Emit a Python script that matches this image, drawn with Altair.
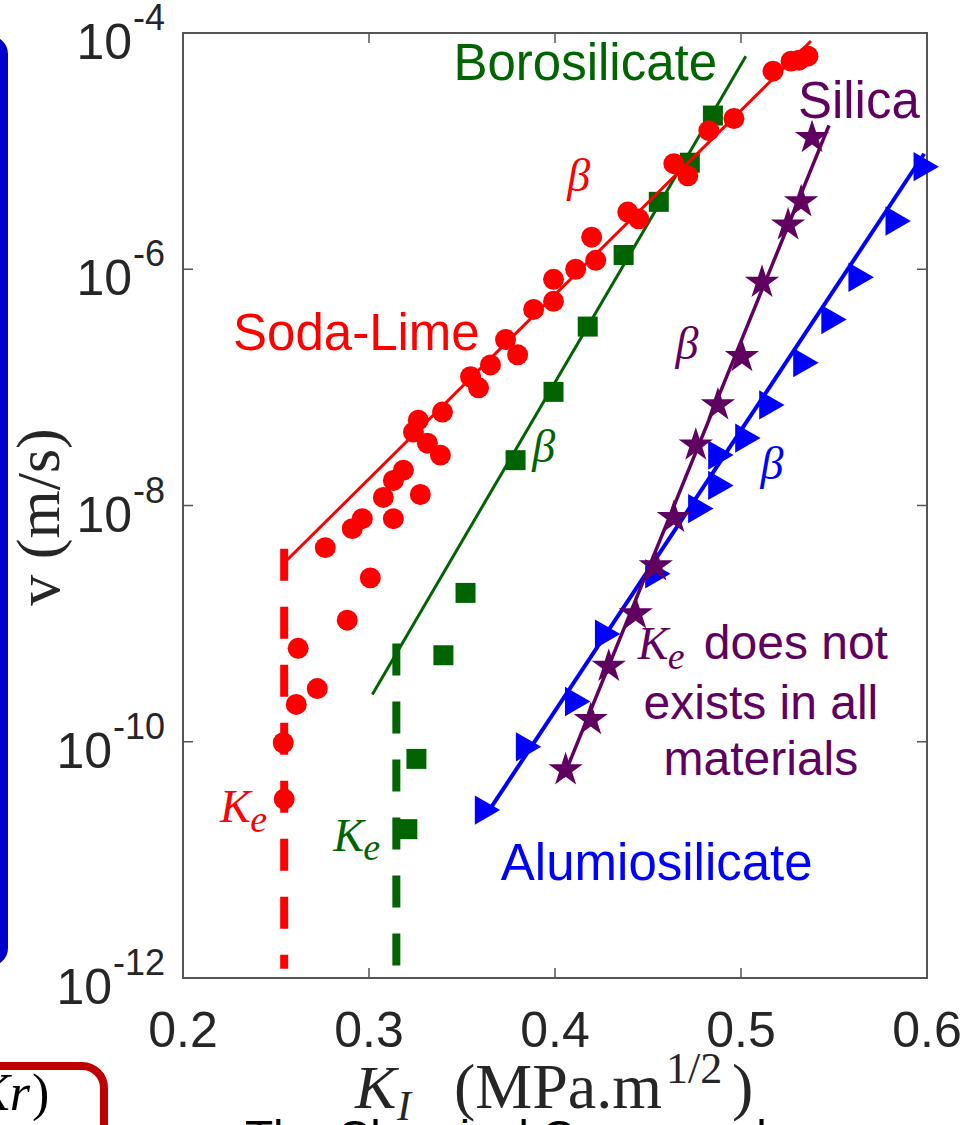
import altair as alt
import pandas as pd

# ---------------------------------------------------------------
# Sub-critical crack growth: velocity v (m/s) against K_I (MPa.m^1/2)
# ---------------------------------------------------------------
soda_k = [0.2544, 0.2539, 0.2609, 0.2722, 0.2619, 0.2883, 0.3007, 0.2765, 0.2910, 0.2964,
          0.3131, 0.3077, 0.3185, 0.3131, 0.3276, 0.3384, 0.3314, 0.3239, 0.3265, 0.3395,
          0.3589, 0.3546, 0.3653, 0.3799, 0.3734, 0.3885, 0.3992, 0.3992, 0.4111, 0.4219,
          0.4197, 0.4391, 0.4450, 0.4639, 0.4714, 0.4827, 0.4962, 0.5172, 0.5269, 0.5312, 0.5360]
soda_v = [3.27e-11, 9.8e-11, 2.07e-10, 2.82e-10, 6.18e-10, 1.07e-9, 2.44e-9, 4.40e-9, 6.37e-9, 7.74e-9,
          7.74e-9, 1.17e-8, 1.99e-8, 1.63e-8, 1.24e-8, 2.67e-8, 3.37e-8, 4.18e-8, 5.28e-8, 6.18e-8,
          9.91e-8, 1.23e-7, 1.55e-7, 1.89e-7, 2.54e-7, 4.57e-7, 5.35e-7, 8.22e-7, 1.00e-6, 1.19e-6,
          1.87e-6, 3.05e-6, 2.67e-6, 7.83e-6, 6.18e-6, 1.49e-5, 1.89e-5, 4.75e-5, 5.78e-5, 5.89e-5, 6.37e-5]

boro_k = [0.3206, 0.3255, 0.3400, 0.3519, 0.3788, 0.3992, 0.4176, 0.4369, 0.4558, 0.4725, 0.4849]
boro_v = [1.82e-11, 7.16e-11, 5.40e-10, 1.82e-9, 2.42e-8, 9.16e-8, 3.27e-7, 1.32e-6, 3.72e-6, 7.98e-6, 2.00e-5]

silica_k = [0.4057, 0.4192, 0.4289, 0.4434, 0.4542, 0.4639, 0.4757, 0.4876, 0.5005, 0.5113,
            0.5253, 0.5323, 0.5382]
silica_v = [5.78e-11, 1.54e-10, 4.35e-10, 1.21e-9, 3.08e-9, 7.91e-9, 3.24e-8, 7.10e-8, 1.82e-7, 7.74e-7,
            2.37e-6, 3.72e-6, 1.30e-5]

alumino_k = [0.3637, 0.3858, 0.4122, 0.4283, 0.4553, 0.4784, 0.4892, 0.4892, 0.5037, 0.5166,
             0.5349, 0.5500, 0.5646, 0.5845, 0.5996]
alumino_v = [2.64e-11, 9.06e-11, 2.19e-10, 8.15e-10, 2.64e-9, 9.42e-9, 1.48e-8, 2.67e-8, 3.72e-8, 7.10e-8,
             1.62e-7, 3.75e-7, 8.55e-7, 2.56e-6, 7.38e-6]

# Straight fits of the stress-corrosion (beta) region
soda_fit_k, soda_fit_v = [0.2539, 0.5376], [3.21e-9, 8.55e-5]
boro_fit_k, boro_fit_v = [0.3018, 0.5026], [2.51e-10, 6.37e-5]
silica_fit_k, silica_fit_v = [0.4045, 0.5473], [5.0e-11, 1.65e-5]
alumino_fit_k, alumino_fit_v = [0.3637, 0.5985], [2.5e-11, 9.5e-6]

# Fatigue limits K_e (vertical dashed lines)
ke_soda, ke_soda_v = 0.2544, [4.3e-9, 1.2e-12]
ke_boro, ke_boro_v = 0.3147, [6.8e-10, 1.25e-12]

# Axis ticks
x_ticks = [0.2, 0.3, 0.4, 0.5, 0.6]
x_tick_labels = ["0.2", "0.3", "0.4", "0.5", "0.6"]
x_inner_ticks = [0.3, 0.4, 0.5]
y_ticks = [1e-4, 1e-6, 1e-8, 1e-10, 1e-12]
y_tick_exp = ["-4", "-6", "-8", "-10", "-12"]
y_inner_ticks = [1e-6, 1e-8, 1e-10]

RED, GREEN, PURPLE, BLUE = "#ff0000", "#006400", "#600060", "#0000ff"
INK = "#262626"
SANS = "Liberation Sans"
SERIF = "Liberation Serif"

# five-pointed star in the unit box used by Vega symbol paths
STAR = ("M0,-1L0.2245,-0.309L0.9511,-0.309L0.3633,0.118L0.5878,0.809"
        "L0,0.382L-0.5878,0.809L-0.3633,0.118L-0.9511,-0.309L-0.2245,-0.309Z")

W, H = 744, 945

XS = alt.Scale(domain=[0.2, 0.6], nice=False, zero=False)
YS = alt.Scale(type="log", domain=[1e-12, 1e-4], nice=False)


def xk(field="k"):
    return alt.X(f"{field}:Q", scale=XS, axis=None)


def yv(field="v"):
    return alt.Y(f"{field}:Q", scale=YS, axis=None)


def frame(d):
    return alt.Chart(pd.DataFrame(d))


def points(k, v, shape, size, color):
    return frame({"k": k, "v": v}).mark_point(
        shape=shape, size=size, filled=True, color=color, opacity=1
    ).encode(x=xk(), y=yv())


def fit(k, v, color, width):
    return frame({"k": k, "v": v}).mark_line(
        color=color, strokeWidth=width
    ).encode(x=xk(), y=yv())


def ke_line(k, v, color):
    return frame({"k": [k], "v": [v[0]], "v2": [v[1]]}).mark_rule(
        color=color, strokeWidth=8, strokeDash=[32, 26], strokeCap="butt"
    ).encode(x=xk(), y=yv(), y2="v2:Q")


def note(text, k, v, color, size, font=SANS, style="normal", align="left", baseline="alphabetic"):
    return frame({"k": [k], "v": [v], "t": [text]}).mark_text(
        align=align, baseline=baseline, font=font, fontSize=size, fontStyle=style, color=color
    ).encode(x=xk(), y=yv(), text="t:N")


def pixel_text(text, px, py, size, font, style="normal", align="left",
               baseline="alphabetic", color=INK, angle=None):
    kw = dict(align=align, baseline=baseline, font=font, fontSize=size, fontStyle=style, color=color)
    if angle is not None:
        kw["angle"] = angle
    return frame({"t": [text]}).mark_text(**kw).encode(
        x=alt.value(px), y=alt.value(py), text="t:N"
    )


layers = []

# Fits, measured points and fatigue limits
layers += [
    fit(boro_fit_k, boro_fit_v, GREEN, 3),
    points(boro_k, boro_v, "square", 400, GREEN),
    fit(soda_fit_k, soda_fit_v, RED, 3),
    points(soda_k, soda_v, "circle", 440, RED),
    fit(alumino_fit_k, alumino_fit_v, BLUE, 4),
    points(alumino_k, alumino_v, "triangle-right", 860, BLUE),
    fit(silica_fit_k, silica_fit_v, PURPLE, 3.5),
    points(silica_k, silica_v, STAR, 1300, PURPLE),
    ke_line(ke_soda, ke_soda_v, RED),
    ke_line(ke_boro, ke_boro_v, GREEN),
]

# Material names and annotations
layers += [
    note("Borosilicate", 0.3454, 3.98e-5, GREEN, 51),
    note("Silica", 0.5306, 1.89e-5, PURPLE, 51),
    note("Soda-Lime", 0.2269, 2.08e-7, RED, 51),
    note("Alumiosilicate", 0.4547, 6.82e-12, BLUE, 51, align="center"),
    note("does not", 0.480, 4.99e-10, PURPLE, 48),
    note("exists in all", 0.5107, 1.57e-10, PURPLE, 48, align="center"),
    note("materials", 0.5107, 5.24e-11, PURPLE, 48, align="center"),
    note("β", 0.4127, 6.07e-6, RED, 46, SERIF, "italic", "center", "middle"),
    note("β", 0.3939, 3.05e-8, GREEN, 46, SERIF, "italic", "center", "middle"),
    note("β", 0.4709, 2.30e-7, PURPLE, 46, SERIF, "italic", "center", "middle"),
    note("β", 0.5166, 2.19e-8, BLUE, 46, SERIF, "italic", "center", "middle"),
    note("K", 0.2199, 2.08e-11, RED, 46, SERIF, "italic"),
    note("e", 0.2361, 1.71e-11, RED, 38, SERIF, "italic"),
    note("K", 0.2808, 1.20e-11, GREEN, 46, SERIF, "italic"),
    note("e", 0.2969, 9.9e-12, GREEN, 38, SERIF, "italic"),
    note("K", 0.4445, 4.99e-10, PURPLE, 46, SERIF, "italic"),
    note("e", 0.4606, 4.10e-10, PURPLE, 38, SERIF, "italic"),
]

# Inward tick marks on all four sides
xt = frame({"k": x_inner_ticks})
yt = frame({"v": y_inner_ticks})
tick_style = dict(color="#555555", strokeWidth=1.5)
layers += [
    xt.mark_rule(**tick_style).encode(x=xk(), y=alt.value(H), y2=alt.value(H - 10)),
    xt.mark_rule(**tick_style).encode(x=xk(), y=alt.value(0), y2=alt.value(10)),
    yt.mark_rule(**tick_style).encode(y=yv(), x=alt.value(0), x2=alt.value(10)),
    yt.mark_rule(**tick_style).encode(y=yv(), x=alt.value(W - 10), x2=alt.value(W)),
]

# Tick labels
xl = frame({"k": x_ticks, "t": x_tick_labels})
layers.append(
    xl.mark_text(align="center", baseline="alphabetic", font=SANS, fontSize=50, color=INK)
    .encode(x=xk(), y=alt.value(H + 69), text="t:N")
)
yl = frame({"v": y_ticks, "e": y_tick_exp})
ten = dict(align="right", baseline="alphabetic", font=SANS, fontSize=50, color=INK, dy=26)
layers += [
    yl.transform_filter("length(datum.e) == 2").mark_text(text="10", **ten)
    .encode(y=yv(), x=alt.value(-51)),
    yl.transform_filter("length(datum.e) == 3").mark_text(text="10", **ten)
    .encode(y=yv(), x=alt.value(-71)),
    yl.mark_text(align="right", baseline="alphabetic", font=SANS, fontSize=36, color=INK, dy=-3)
    .encode(y=yv(), x=alt.value(-18), text="e:N"),
]

# Axis titles (LaTeX-style)
layers += [
    pixel_text("v (m/s)", -143, 484, 62, SERIF, align="center", baseline="middle", angle=270),
    pixel_text("K", 172, 1075, 62, SERIF, "italic"),
    pixel_text("I", 214, 1087, 42, SERIF, "italic"),
    pixel_text("(MPa.m", 271, 1075, 64, SERIF),
    pixel_text("1/2", 483, 1050, 44, SERIF),
    pixel_text(")", 549, 1075, 64, SERIF),
]

# Surrounding slide elements
box = frame({"a": [0]})
layers += [
    box.mark_rect(filled=False, stroke="#0000cc", strokeWidth=8, cornerRadius=14)
    .encode(x=alt.value(-400), x2=alt.value(-179), y=alt.value(7), y2=alt.value(929)),
    box.mark_rect(filled=False, stroke="#c00000", strokeWidth=8, cornerRadius=22)
    .encode(x=alt.value(-400), x2=alt.value(-79), y=alt.value(1033), y2=alt.value(1300)),
    pixel_text("Kr", -153, 1077, 52, SERIF, "italic", align="right", color="#000000"),
    pixel_text(")", -151, 1077, 52, SERIF, color="#000000"),
    pixel_text("The Chemical Compound", 62, 1120, 46, SANS, color="#000000"),
]

chart = (
    alt.layer(*layers)
    .properties(
        width=W,
        height=H,
        autosize=alt.AutoSizeParams(type="none"),
        padding={"left": 183, "top": 33, "right": 40, "bottom": 147},
        background="white",
    )
    .configure_view(stroke="#555555", strokeWidth=2)
)

chart.save("out.html", embed_options={"renderer": "svg", "actions": False})
